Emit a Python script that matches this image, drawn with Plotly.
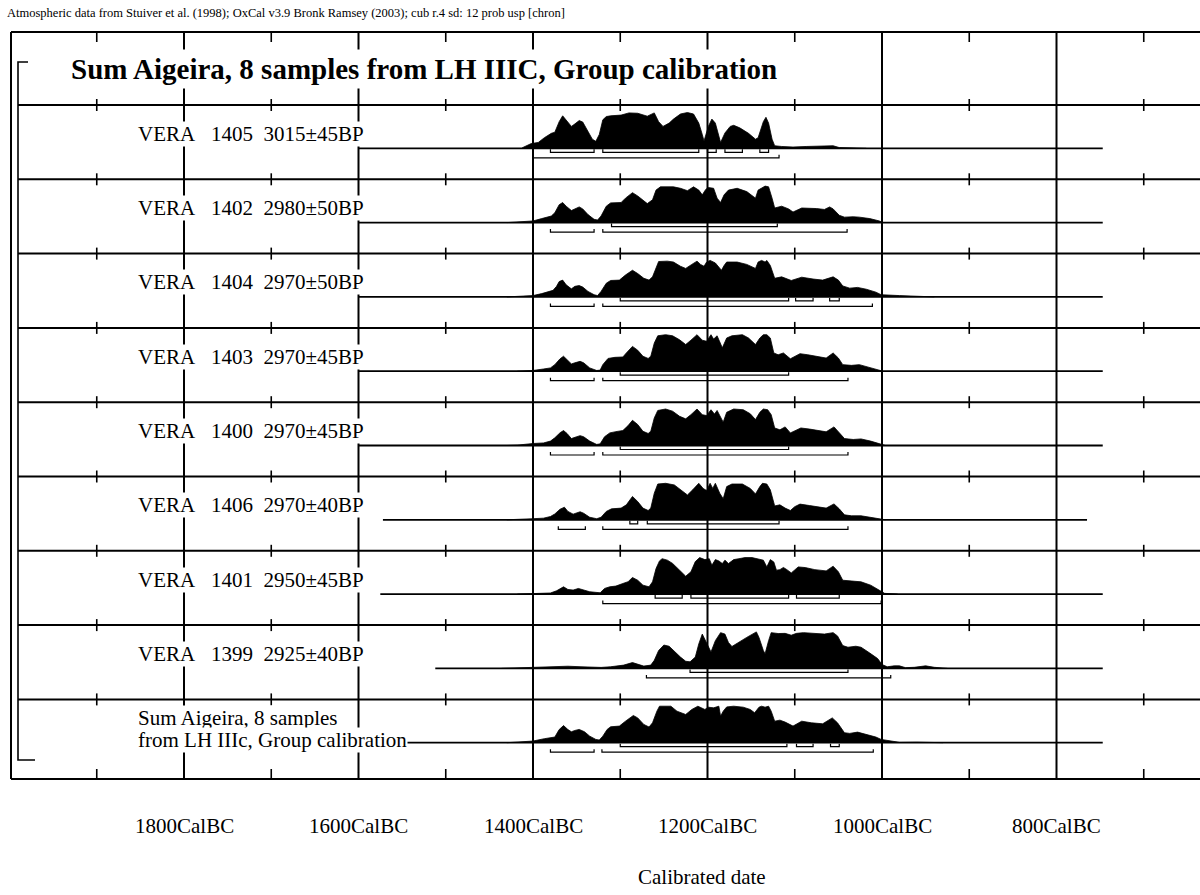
import plotly.graph_objects as go

# ---------------- data ----------------
row_names = ["VERA 1405", "VERA 1402", "VERA 1404", "VERA 1403", "VERA 1400",
             "VERA 1406", "VERA 1401", "VERA 1399"]
row_dates = ["3015±45BP", "2980±50BP", "2970±50BP", "2970±45BP", "2970±45BP",
             "2970±40BP", "2950±45BP", "2925±40BP"]
sum_label = ["Sum Aigeira, 8 samples", "from LH IIIc, Group calibration"]
title_text = "Sum Aigeira, 8 samples from LH IIIC, Group calibration"
header_text = ("Atmospheric data from Stuiver et al. (1998); OxCal v3.9 Bronk Ramsey (2003); "
               "cub r.4 sd: 12 prob usp [chron]")

# calendar years BC and relative probability (max = 1)
yrs_1405 = [1413, 1411, 1402, 1394, 1387, 1379, 1375, 1370, 1366, 1362, 1356, 1353, 1347, 1343, 1337,
            1332, 1328, 1324, 1320, 1316, 1311, 1299, 1290, 1280, 1269, 1263, 1261, 1256, 1251, 1244,
            1239, 1231, 1223, 1216, 1210, 1206, 1204, 1199, 1195, 1191, 1187, 1185, 1180, 1174, 1170,
            1163, 1153, 1145, 1142, 1136, 1133, 1130, 1126, 1123, 1115, 1102, 1087, 1056, 1049, 1018]
prob_1405 = [0, .03, .13, .16, .29, .41, .44, .73, .89, .78, .60, .65, .76, .72, .47,
             .25, .19, .38, .78, .87, .89, .91, .97, .96, .88, .94, .97, .73, .60, .69,
             .80, .94, .98, .94, .69, .38, .20, .60, .80, .69, .34, .16, .42, .60, .63,
             .56, .41, .25, .29, .73, .85, .69, .25, .07, .05, .035, .05, .07, .02, 0]

yrs_1402 = [1430, 1413, 1400, 1390, 1379, 1375, 1370, 1366, 1362, 1356, 1352, 1347, 1343, 1337, 1330,
            1326, 1322, 1316, 1311, 1299, 1294, 1286, 1280, 1273, 1269, 1263, 1259, 1254, 1239, 1231,
            1223, 1216, 1210, 1206, 1202, 1199, 1193, 1189, 1185, 1181, 1176, 1166, 1155, 1145, 1142,
            1134, 1130, 1126, 1123, 1115, 1107, 1102, 1092, 1075, 1066, 1060, 1056, 1049, 1043, 1033,
            1026, 1014, 1003, 999]
prob_1402 = [0, .02, .045, .11, .18, .27, .49, .55, .45, .33, .375, .43, .375, .22, .09,
             .07, .18, .45, .54, .55, .67, .82, .73, .58, .52, .625, .89, .98, .98, .94,
             .875, .98, .89, .76, .91, .96, .94, .67, .55, .76, .89, .94, .85, .67, .89,
             1.0, .98, .67, .40, .45, .375, .29, .40, .385, .36, .43, .375, .20, .15, .16,
             .15, .11, .045, 0]

yrs_1404 = [1430, 1413, 1400, 1390, 1377, 1373, 1370, 1366, 1362, 1356, 1352, 1347, 1343, 1337, 1330,
            1326, 1322, 1316, 1311, 1301, 1294, 1286, 1280, 1273, 1267, 1263, 1259, 1256, 1246, 1239,
            1231, 1225, 1218, 1212, 1208, 1204, 1201, 1197, 1191, 1187, 1184, 1181, 1178, 1166, 1155,
            1145, 1142, 1138, 1134, 1132, 1128, 1123, 1115, 1104, 1092, 1079, 1068, 1056, 1050, 1045,
            1037, 1028, 1018, 1007, 1001, 980, 957, 940]
prob_1404 = [0, .02, .036, .09, .18, .29, .42, .46, .33, .22, .29, .31, .27, .15, .06,
             .036, .15, .375, .45, .46, .60, .73, .64, .51, .46, .55, .82, .97, .98, .955,
             .84, .78, .89, .98, .89, .84, .955, 1.0, .93, .80, .73, .86, .955, .955, .89,
             .78, .955, 1.0, .955, 1.0, .86, .51, .55, .45, .54, .49, .46, .55, .46, .30,
             .24, .26, .21, .13, .06, .036, .02, 0]

yrs_1403 = [1418, 1400, 1388, 1380, 1375, 1369, 1365, 1361, 1356, 1352, 1346, 1342, 1335, 1327, 1323,
            1320, 1314, 1306, 1297, 1293, 1286, 1280, 1274, 1268, 1265, 1261, 1257, 1248, 1240, 1232,
            1225, 1219, 1212, 1206, 1201, 1196, 1193, 1189, 1183, 1178, 1172, 1160, 1153, 1145, 1140,
            1136, 1132, 1128, 1124, 1119, 1113, 1105, 1100, 1094, 1085, 1073, 1064, 1056, 1050, 1045,
            1035, 1026, 1016, 1005, 999]
prob_1403 = [0, .02, .06, .09, .18, .34, .41, .32, .20, .23, .27, .23, .09, .02, .03,
             .18, .35, .38, .39, .50, .68, .575, .41, .35, .41, .77, .97, 1.0, .97, .86,
             .73, .85, 1.0, .85, .82, 1.0, .88, .97, .64, .91, .97, 1.0, .91, .73, .91,
             1.0, 1.0, .91, .50, .45, .50, .34, .41, .48, .45, .41, .36, .50, .36, .18,
             .16, .18, .12, .045, 0]

yrs_1400 = [1430, 1418, 1400, 1388, 1380, 1375, 1369, 1365, 1361, 1356, 1350, 1346, 1342, 1335, 1327,
            1323, 1318, 1312, 1305, 1297, 1291, 1286, 1280, 1274, 1268, 1265, 1261, 1257, 1248, 1240,
            1232, 1225, 1219, 1212, 1206, 1201, 1196, 1192, 1189, 1182, 1178, 1170, 1159, 1151, 1145,
            1140, 1136, 1131, 1127, 1123, 1117, 1111, 1105, 1100, 1093, 1083, 1073, 1064, 1055, 1049,
            1043, 1033, 1024, 1013, 1001, 996]
prob_1400 = [0, .01, .055, .07, .12, .21, .35, .41, .33, .19, .24, .27, .24, .12, .03,
             .045, .24, .345, .38, .41, .545, .69, .575, .39, .33, .39, .755, .96, 1.0, .94,
             .80, .73, .845, 1.0, .845, .82, .98, .86, .96, .64, .91, 1.0, .98, .87, .71,
             .91, 1.0, .98, .845, .48, .43, .51, .345, .41, .48, .45, .41, .375, .51, .345,
             .19, .165, .18, .12, .03, 0]

yrs_1406 = [1430, 1418, 1400, 1388, 1380, 1375, 1369, 1364, 1360, 1354, 1350, 1346, 1342, 1335, 1327,
            1322, 1316, 1310, 1299, 1293, 1286, 1280, 1274, 1268, 1265, 1261, 1257, 1248, 1238, 1231,
            1223, 1217, 1210, 1205, 1201, 1197, 1194, 1191, 1186, 1182, 1178, 1172, 1160, 1151, 1145,
            1140, 1137, 1132, 1128, 1123, 1117, 1111, 1105, 1100, 1094, 1083, 1071, 1064, 1055, 1049,
            1043, 1035, 1024, 1013, 1001, 996]
prob_1406 = [0, .02, .03, .045, .09, .16, .29, .345, .23, .155, .18, .22, .18, .07, .03,
             .07, .23, .30, .32, .41, .64, .50, .32, .255, .32, .73, .98, 1.0, .955, .82,
             .68, .82, 1.0, .86, .80, 1.0, .86, 1.0, .73, .575, .91, .98, .98, .86, .71,
             .91, 1.0, .98, .82, .38, .41, .32, .255, .36, .43, .39, .345, .32, .436, .30,
             .136, .11, .11, .07, .02, 0]

yrs_1401 = [1418, 1400, 1380, 1373, 1365, 1360, 1354, 1348, 1342, 1335, 1323, 1318, 1312, 1305, 1297,
            1291, 1286, 1280, 1274, 1267, 1263, 1259, 1255, 1252, 1246, 1240, 1232, 1225, 1219, 1214,
            1209, 1203, 1198, 1195, 1191, 1187, 1183, 1180, 1176, 1170, 1164, 1157, 1149, 1142, 1136,
            1132, 1128, 1124, 1121, 1117, 1113, 1109, 1104, 1096, 1088, 1077, 1064, 1056, 1050, 1045,
            1035, 1024, 1013, 1003, 997, 982]
prob_1401 = [0, .01, .03, .09, .20, .127, .11, .155, .11, .064, .036, .155, .20, .22, .29,
             .34, .455, .38, .245, .20, .336, .70, .91, .97, .93, .84, .655, .49, .61, .89,
             1.0, .945, .97, .79, .945, .91, .836, .93, .836, .945, .97, 1.0, 1.0, .97, .93,
             .745, .945, .88, .655, .67, .73, .67, .58, .745, .727, .67, .636, .764, .61, .38,
             .36, .336, .245, .09, .02, 0]

yrs_1399 = [1436, 1372, 1360, 1345, 1322, 1311, 1296, 1286, 1280, 1273, 1265, 1261, 1256, 1250, 1244,
            1239, 1231, 1225, 1220, 1214, 1210, 1206, 1201, 1196, 1191, 1185, 1180, 1176, 1172, 1165,
            1155, 1144, 1141, 1136, 1134, 1130, 1127, 1119, 1111, 1104, 1098, 1090, 1079, 1066, 1056,
            1051, 1045, 1039, 1030, 1024, 1014, 1005, 1000, 994, 986, 980, 973, 963, 950, 940, 925]
prob_1399 = [0, .045, .06, .045, .027, .045, .09, .16, .116, .063, .09, .22, .49, .64, .607,
             .49, .31, .196, .18, .31, .67, .94, .71, .45, .76, .98, .94, .71, .60, .71,
             .85, 1.0, .85, .49, .40, .76, .98, .955, .96, .91, .96, .98, .96, .94, .98,
             .89, .625, .58, .607, .58, .42, .27, .107, .045, .07, .07, .02, .03, .07, .03, 0]

yrs_sum = [1430, 1413, 1400, 1387, 1375, 1370, 1365, 1360, 1356, 1352, 1347, 1341, 1335, 1328, 1324,
           1320, 1315, 1311, 1301, 1294, 1285, 1280, 1273, 1267, 1263, 1258, 1255, 1242, 1235, 1225,
           1218, 1211, 1206, 1203, 1199, 1193, 1187, 1185, 1182, 1178, 1170, 1159, 1151, 1146, 1141,
           1138, 1134, 1130, 1127, 1123, 1117, 1111, 1102, 1092, 1081, 1068, 1057, 1051, 1043, 1037,
           1028, 1018, 1007, 1001, 991, 980, 960, 930]
prob_sum = [0, .02, .045, .11, .155, .36, .47, .36, .30, .336, .364, .30, .18, .09, .073,
            .18, .364, .436, .455, .59, .745, .68, .50, .43, .545, .864, 1.0, 1.0, .864, .773,
            .91, 1.0, .936, .91, .973, .955, 1.0, .727, .864, .98, 1.0, .973, .91, .82, .973,
            1.0, .973, 1.0, .864, .59, .618, .564, .455, .59, .545, .518, .68, .545, .273, .255,
            .29, .227, .155, .09, .045, .01, .015, 0]

# 68.2% and 95.4% ranges (BC)
sig1 = [
    [(1380, 1330), (1320, 1210), (1200, 1190), (1180, 1160), (1140, 1130)],
    [(1310, 1120)],
    [(1300, 1107), (1099, 1079), (1060, 1049)],
    [(1300, 1107)],
    [(1300, 1107)],
    [(1289, 1280), (1269, 1118)],
    [(1260, 1229), (1219, 1107), (1098, 1049)],
    [(1220, 1039)],
    [(1300, 1109), (1098, 1079), (1059, 1049)],
]
sig2 = [
    [(1400, 1118)],
    [(1380, 1330), (1320, 1040)],
    [(1380, 1330), (1320, 1011)],
    [(1380, 1330), (1320, 1039)],
    [(1380, 1330), (1320, 1039)],
    [(1371, 1340), (1320, 1039)],
    [(1320, 1001)],
    [(1270, 990)],
    [(1380, 1330), (1321, 1010)],
]
# extent of each row's base line (BC)
base_start = [1600, 1600, 1600, 1600, 1600, 1572, 1575, 1512, 1600]
base_end = [747, 747, 747, 747, 747, 765, 747, 747, 747]

major_years = [1800, 1600, 1400, 1200, 1000, 800]
major_labels = ["1800CalBC", "1600CalBC", "1400CalBC", "1200CalBC", "1000CalBC", "800CalBC"]
minor_years = [1900, 1700, 1500, 1300, 1100, 900, 700]

dists = [(yrs_1405, prob_1405), (yrs_1402, prob_1402), (yrs_1404, prob_1404),
         (yrs_1403, prob_1403), (yrs_1400, prob_1400), (yrs_1406, prob_1406),
         (yrs_1401, prob_1401), (yrs_1399, prob_1399), (yrs_sum, prob_sum)]
for a, b in dists:
    if len(a) != len(b):
        raise ValueError("length mismatch %d %d" % (len(a), len(b)))

# ---------------- layout geometry ----------------
W, H = 1200, 895
X1400, PX_PER_YR = 533.0, 0.8725


def yr(px):
    return 1400 + (X1400 - px) / PX_PER_YR


FRAME_L, FRAME_T, FRAME_B = 11, 32, 779
BRACKET_X = 18
SEP0, ROW_H = 105.0, 74.3
BASE_OFF, PEAK = 43.3, 36.5
NROW = 9
seps = [SEP0 + i * ROW_H for i in range(NROW)]
bases = [s + BASE_OFF for s in seps]
FONT = "Liberation Serif, Times New Roman, serif"
INK = "#000000"

fig = go.Figure()

# distributions
for i, (ys, ps) in enumerate(dists):
    b = bases[i]
    xs = [ys[0]] + list(ys) + [ys[-1]]
    yy = [b] + [b - p * PEAK for p in ps] + [b]
    fig.add_trace(go.Scatter(x=xs, y=yy, mode="lines", fill="toself", fillcolor=INK,
                             line=dict(color=INK, width=0.8), hoverinfo="skip", showlegend=False))
    # base line
    fig.add_trace(go.Scatter(x=[base_start[i], base_end[i]], y=[b, b], mode="lines",
                             line=dict(color=INK, width=1.8), hoverinfo="skip", showlegend=False))
    # range bars
    for segs, off in ((sig1[i], 4.0), (sig2[i], 9.5)):
        rx, ry = [], []
        yb = b + off
        for a0, a1 in segs:
            rx += [a0, a0, a1, a1, None]
            ry += [yb - 3, yb, yb, yb - 3, None]
        fig.add_trace(go.Scatter(x=rx, y=ry, mode="lines", line=dict(color=INK, width=1.2),
                                 hoverinfo="skip", showlegend=False))

shapes = []


def hline(y, x0px, x1px, w=2.0):
    shapes.append(dict(type="line", xref="x", yref="y", x0=yr(x0px), x1=yr(x1px), y0=y, y1=y,
                       line=dict(color=INK, width=w), layer="above"))


def vline(x, y0, y1, w=2.0):
    shapes.append(dict(type="line", xref="x", yref="y", x0=x, x1=x, y0=y0, y1=y1,
                       line=dict(color=INK, width=w), layer="above"))


# frame
hline(FRAME_T, FRAME_L, W + 5)
hline(FRAME_B, FRAME_L, W + 5)
vline(yr(FRAME_L), FRAME_T, FRAME_B)
for s in seps:
    hline(s, BRACKET_X, W + 5)
# major grid lines
for yv in major_years:
    vline(yv, FRAME_T, FRAME_B)
# minor ticks
for yv in minor_years:
    vline(yv, FRAME_T, FRAME_T + 10, 1.6)
    vline(yv, FRAME_B - 10, FRAME_B, 1.6)
    for s in seps:
        vline(yv, s - 6, s + 6, 1.6)
# group bracket
shapes.append(dict(type="path", xref="x", yref="y",
                   path="M %f,%f L %f,%f L %f,%f L %f,%f" % (yr(28), 62, yr(BRACKET_X), 62,
                                                              yr(BRACKET_X), 760, yr(35), 760),
                   line=dict(color=INK, width=1.6), layer="above"))

ann = []
ann.append(dict(x=yr(5), y=13, xref="x", yref="y", text=header_text, showarrow=False,
                xanchor="left", yanchor="middle", font=dict(family=FONT, size=12.5, color=INK)))
ann.append(dict(x=yr(67), y=69, xref="x", yref="y", text="<b>%s</b>" % title_text, showarrow=False,
                xanchor="left", yanchor="middle", bgcolor="white", borderpad=3,
                font=dict(family=FONT, size=29, color=INK)))
NB = "\u00a0"
for i in range(8):
    nm, num = row_names[i].split(" ")
    txt = nm + NB * 3 + num + NB * 2 + row_dates[i]
    ann.append(dict(x=yr(137), y=bases[i] - 14.5, xref="x", yref="y", text=txt, showarrow=False,
                    xanchor="left", yanchor="middle", bgcolor="white", borderpad=0,
                    font=dict(family=FONT, size=21, color=INK)))
for k, line in enumerate(sum_label):
    ann.append(dict(x=yr(137), y=bases[8] - 25 + k * 22, xref="x", yref="y", text=line,
                    showarrow=False, xanchor="left", yanchor="middle", bgcolor="white",
                    borderpad=0, font=dict(family=FONT, size=21, color=INK)))
for yv, lab in zip(major_years, major_labels):
    ann.append(dict(x=yv, y=826, xref="x", yref="y", text=lab, showarrow=False,
                    xanchor="center", yanchor="middle", font=dict(family=FONT, size=21, color=INK)))
ann.append(dict(x=yr(702), y=877, xref="x", yref="y", text="Calibrated date", showarrow=False,
                xanchor="center", yanchor="middle", font=dict(family=FONT, size=21, color=INK)))

fig.update_layout(
    width=W, height=H, margin=dict(l=0, r=0, t=0, b=0),
    paper_bgcolor="white", plot_bgcolor="white",
    xaxis=dict(range=[yr(0), yr(W)], visible=False, fixedrange=True),
    yaxis=dict(range=[H, 0], visible=False, fixedrange=True),
    shapes=shapes, annotations=ann, showlegend=False,
)

fig.write_html("out.html", config={"displayModeBar": False, "staticPlot": True},
               post_script="document.body.style.margin='0px';document.body.style.overflow='hidden';")
